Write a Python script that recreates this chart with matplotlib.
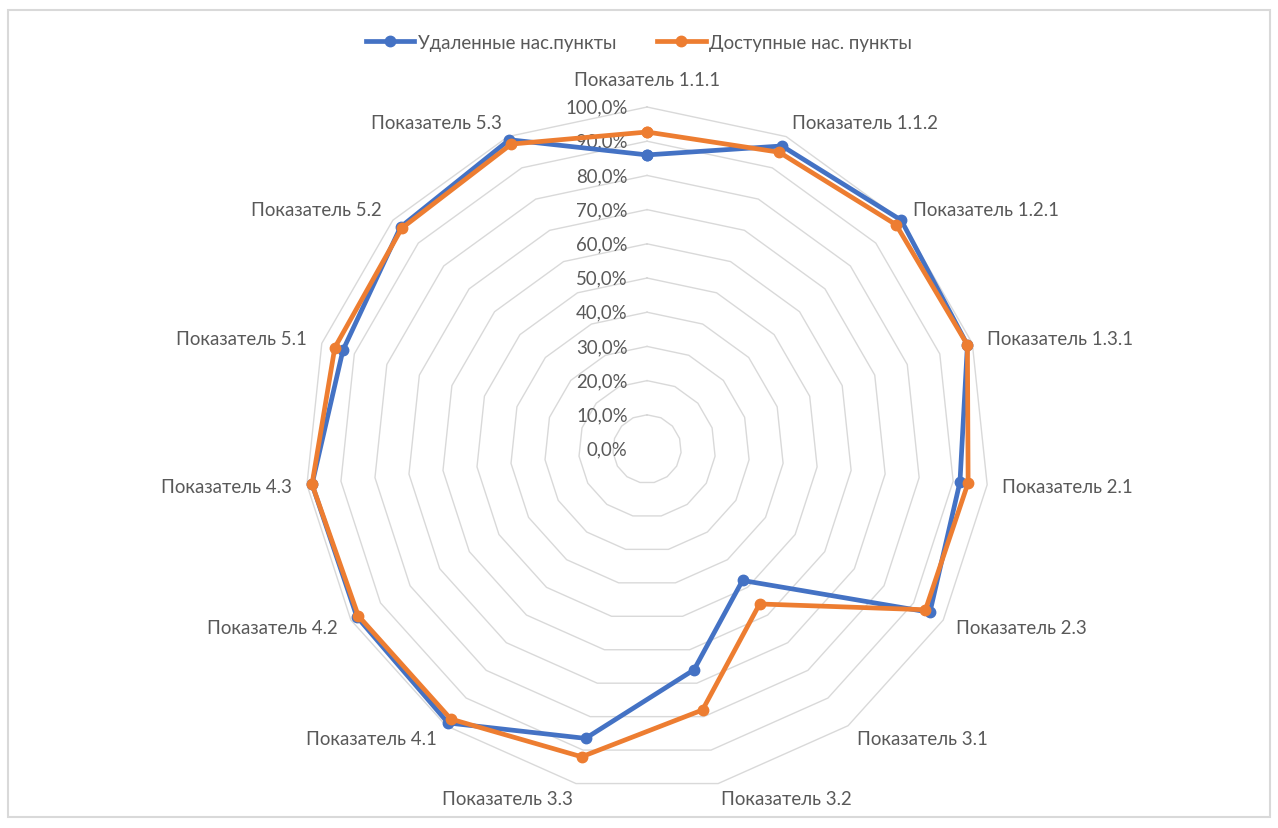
import matplotlib.pyplot as plt
import numpy as np
from matplotlib.patches import Rectangle

categories = ['Показатель 1.1.1', 'Показатель 1.1.2', 'Показатель 1.2.1', 'Показатель 1.3.1',
              'Показатель 2.1', 'Показатель 2.3', 'Показатель 3.1', 'Показатель 3.2',
              'Показатель 3.3', 'Показатель 4.1', 'Показатель 4.2', 'Показатель 4.3',
              'Показатель 5.1', 'Показатель 5.2', 'Показатель 5.3']
remote = [0.86, 0.97, 1.00, 0.985, 0.92, 0.955, 0.475, 0.66, 0.865, 0.99, 0.98, 0.985, 0.935, 0.97, 0.99]
access = [0.927, 0.95, 0.98, 0.985, 0.944, 0.94, 0.56, 0.78, 0.92, 0.976, 0.975, 0.985, 0.96, 0.965, 0.976]
levels = [0.0, 0.1, 0.2, 0.3, 0.4, 0.5, 0.6, 0.7, 0.8, 0.9, 1.0]
level_labels = ['0,0%', '10,0%', '20,0%', '30,0%', '40,0%', '50,0%', '60,0%', '70,0%', '80,0%', '90,0%', '100,0%']

plt.rcParams['font.family'] = ['Lato', 'DejaVu Sans']
txt = '#595959'
blue = '#4472C4'
orange = '#ED7D31'
fs = 13.4

fig = plt.figure(figsize=(12.78, 8.29), dpi=100)
fig.patches.append(Rectangle((8 / 1278, 1 - 818 / 829), 1262 / 1278, 807 / 829,
                             transform=fig.transFigure, fill=False, ec='#D9D9D9', lw=1.5))

ax = fig.add_axes([0.2387, 0.0446, 0.5352, 0.8251], projection='polar')
ax.set_theta_offset(np.pi / 2)
ax.set_theta_direction(-1)
ax.set_ylim(0, 1)
ax.grid(False)
ax.spines['polar'].set_visible(False)
ax.set_xticks([])
ax.set_yticks([])

n = len(categories)
theta = np.arange(n) * 2 * np.pi / n
tc = np.append(theta, theta[0])

# polygon grid like excel
for lv in levels[1:]:
    ax.plot(tc, [lv] * (n + 1), color='#D9D9D9', lw=1.0, zorder=1, clip_on=False)

for lv, lab in zip(levels, level_labels):
    ax.annotate(lab, xy=(0, lv), xytext=(-14, 0), textcoords='offset points',
                ha='right', va='center', fontsize=fs, color=txt, zorder=2)

for t, lab in zip(theta, categories):
    s, c = np.sin(t), np.cos(t)
    if abs(s) < 0.1:
        ha = 'center'
        va = 'bottom' if c > 0 else 'top'
        off = 14
    else:
        ha = 'left' if s > 0 else 'right'
        va = 'center'
        off = 11
    ax.annotate(lab, xy=(t, 1.0), xytext=(off * s, off * c), textcoords='offset points',
                ha=ha, va=va, fontsize=fs, color=txt, annotation_clip=False)

ax.plot(tc, remote + remote[:1], color=blue, lw=3.4, marker='o', ms=7.5,
        label='Удаленные нас.пункты', zorder=4, clip_on=False)
ax.plot(tc, access + access[:1], color=orange, lw=3.4, marker='o', ms=7.5,
        label='Доступные нас. пункты', zorder=5, clip_on=False)

fig.legend(loc='upper center', bbox_to_anchor=(0.5, 0.978), ncol=2, frameon=False,
           fontsize=fs, labelcolor=txt, handlelength=2.6, columnspacing=2.2, handletextpad=0.2)

fig.savefig('out.png', dpi=100)
